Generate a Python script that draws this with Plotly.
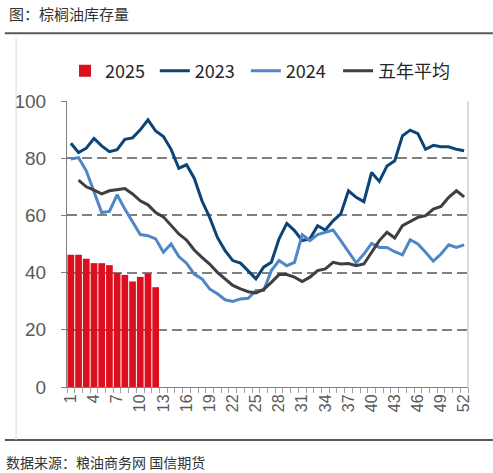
import plotly.graph_objects as go

weeks = list(range(1, 53))
tick_weeks = list(range(1, 53, 3))

stock_2025 = [46.2, 46.2, 44.8, 43.3, 43.3, 42.6, 39.9, 39.2, 36.9, 38.5, 39.7, 34.9]

stock_2023 = [85.2, 82.0, 83.5, 86.9, 84.3, 82.3, 83.0, 86.6, 87.1, 89.9,
              93.4, 89.5, 87.6, 83.1, 76.5, 77.7, 73.0, 65.1, 59.3, 52.3,
              47.7, 44.2, 43.3, 40.5, 37.8, 41.9, 43.6, 51.8, 57.2, 54.7,
              51.2, 51.8, 56.4, 54.9, 58.1, 60.5, 68.6, 66.3, 64.8, 75.0,
              71.9, 77.3, 79.1, 87.8, 89.8, 88.6, 83.1, 84.5, 84.0, 84.0,
              83.1, 82.6]

stock_2024 = [79.7, 80.2, 75.6, 68.0, 61.0, 61.4, 67.2, 62.2, 57.6, 53.3,
              52.9, 51.8, 47.1, 50.0, 45.6, 43.3, 39.5, 37.8, 34.3, 32.6,
              30.5, 29.9, 30.8, 31.0, 33.7, 33.7, 40.7, 44.2, 42.4, 43.6,
              53.2, 51.2, 53.3, 54.1, 54.9, 51.2, 47.3, 43.4, 46.5, 50.2,
              48.8, 48.8, 47.3, 46.2, 51.5, 50.0, 47.1, 44.0, 46.5, 49.7,
              48.8, 49.7]

avg_weeks = list(range(2, 53))
avg_5y = [72.3, 70.0, 68.8, 67.5, 68.6, 69.0, 69.4, 67.5, 65.1, 63.7,
          61.0, 59.5, 56.4, 53.5, 51.4, 47.9, 45.3, 43.0, 40.1, 37.8,
          35.5, 34.3, 33.3, 32.9, 34.1, 36.6, 39.3, 39.3, 38.4, 36.9,
          38.4, 40.7, 41.3, 43.6, 43.0, 43.2, 42.4, 43.0, 47.1, 51.2,
          54.1, 52.1, 56.4, 57.9, 59.3, 59.9, 62.2, 63.1, 66.3, 68.6,
          66.5]

fig = go.Figure()
fig.add_trace(go.Bar(x=weeks[:len(stock_2025)], y=stock_2025, name="2025",
                     marker=dict(color="#dc0f1e", line_width=0), legend="legend"))
fig.add_trace(go.Scatter(x=weeks, y=stock_2023, name="2023", mode="lines",
                         line=dict(color="#0a4479", width=3), legend="legend2"))
fig.add_trace(go.Scatter(x=weeks, y=stock_2024, name="2024", mode="lines",
                         line=dict(color="#4f86c6", width=3), legend="legend3"))
fig.add_trace(go.Scatter(x=avg_weeks, y=avg_5y, name="五年平均", mode="lines",
                         line=dict(color="#3f3f3f", width=3), legend="legend4"))

# frame lines of the report figure
def hline(y, x0=-0.155, x1=1.062, color="#595959", width=2):
    fig.add_shape(type="line", xref="paper", yref="paper", x0=x0, x1=x1,
                  y0=y, y1=y, line=dict(color=color, width=width))

hline(1.237)
hline(-0.185)
fig.add_shape(type="line", xref="paper", yref="paper", x0=-0.127, x1=-0.127,
              y0=1.22, y1=-0.185, line=dict(color="#d9d9d9", width=1))
fig.add_shape(type="line", xref="paper", yref="paper", x0=1, x1=1,
              y0=0, y1=1, line=dict(color="#d0d0d0", width=1.5))

fig.add_annotation(text="图：棕榈油库存量", xref="paper", yref="paper",
                   x=-0.15, y=1.305, xanchor="left", yanchor="middle",
                   showarrow=False, font=dict(size=15, color="#333333"))
fig.add_annotation(text="数据来源：粮油商务网 国信期货", xref="paper", yref="paper",
                   x=-0.157, y=-0.262, xanchor="left", yanchor="middle",
                   showarrow=False, font=dict(size=14, color="#333333"))

def legend_at(x):
    return dict(orientation="h", x=x, y=1.105, xanchor="left", yanchor="middle",
                font=dict(size=18, color="#262626",
                          family="Liberation Sans Narrow, Noto Sans CJK SC"),
                itemwidth=30, bgcolor="rgba(0,0,0,0)")

fig.update_layout(
    width=493, height=473,
    margin=dict(l=67, r=25, t=101, b=86, autoexpand=False),
    paper_bgcolor="white", plot_bgcolor="white",
    font=dict(family="Noto Sans CJK SC, Liberation Sans, sans-serif", color="#404040"),
    bargap=0.13,
    showlegend=True,
    legend=legend_at(-0.005),
    legend2=legend_at(0.219),
    legend3=legend_at(0.446),
    legend4=legend_at(0.676),
)
fig.update_yaxes(range=[0, 100], tickvals=[0, 20, 40, 60, 80, 100],
                 showgrid=True, gridcolor="#808080", gridwidth=1.5, griddash="10px,5px",
                 zeroline=False, showline=True, linecolor="#808080", linewidth=1,
                 ticks="outside", ticklen=5, tickcolor="#808080",
                 ticklabelstandoff=11,
                 tickfont=dict(size=19, color="#595959",
                               family="Liberation Sans Narrow, Liberation Sans"))
fig.update_xaxes(range=[0.5, 52.5], tickvals=tick_weeks, tickangle=-90,
                 showgrid=False, zeroline=False, showline=True,
                 linecolor="#808080", linewidth=1, ticks="",
                 minor=dict(tick0=0.5, dtick=1, ticks="outside", ticklen=5,
                            tickcolor="#a0a0a0", showgrid=False),
                 tickfont=dict(size=16, color="#595959", family="Liberation Sans"))

fig.write_html("out.html", config={"displayModeBar": False},
               post_script="document.body.style.margin='0px';")
